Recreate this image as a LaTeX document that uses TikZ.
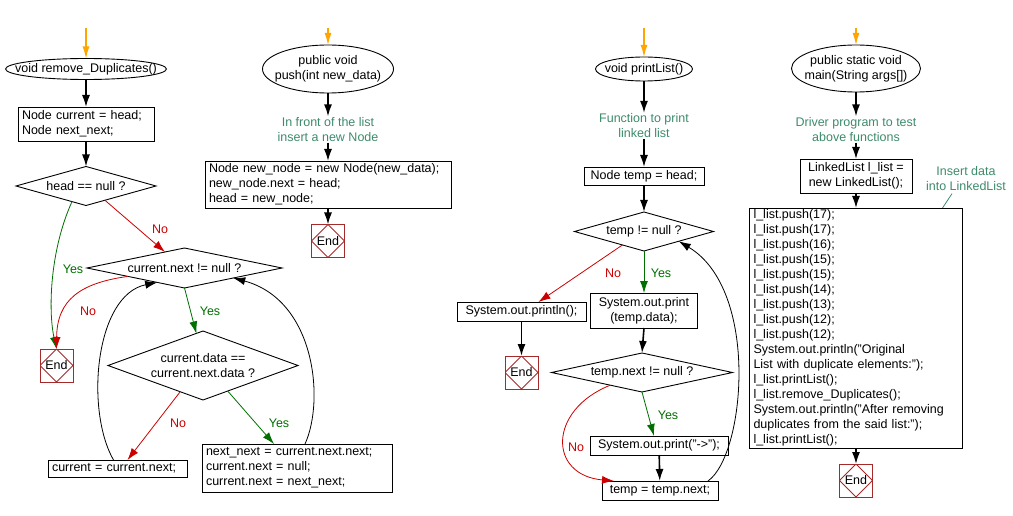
\documentclass[tikz,border=0pt]{standalone}
\usepackage{fontspec}
\setmainfont{Liberation Sans}
\usetikzlibrary{shapes.geometric,arrows.meta,calc}

\definecolor{yesgreen}{RGB}{0,110,0}
\definecolor{nored}{RGB}{204,0,0}
\definecolor{cmtgreen}{RGB}{61,139,107}
\definecolor{endred}{RGB}{165,42,42}
\definecolor{entryorange}{RGB}{255,165,0}

\begin{document}
\begin{tikzpicture}[x=1pt, y=-1pt,
  every node/.style={font=\fontsize{12.5}{15}\selectfont, outer sep=0pt},
  term/.style={draw, line width=0.9pt, ellipse, inner sep=0pt, align=center},
  stepbox/.style={draw, line width=0.9pt, rectangle, inner xsep=4pt, inner ysep=0pt, align=left},
  cond/.style={draw, line width=0.9pt, diamond, inner sep=0pt, align=center},
  endbox/.style={draw=endred, line width=0.9pt, minimum size=33pt, inner sep=0pt,
    path picture={\draw[endred, line width=0.9pt] (path picture bounding box.north) -- (path picture bounding box.east) -- (path picture bounding box.south) -- (path picture bounding box.west) -- cycle;}},
  cmt/.style={text=cmtgreen, align=center, inner sep=1pt},
  flow/.style={-{Latex[length=12pt,width=8pt]}, line width=1.6pt},
  back/.style={-{Latex[length=12pt,width=8pt]}, line width=0.8pt},
  yes/.style={-{Latex[length=12pt,width=8pt]}, yesgreen, line width=0.8pt},
  no/.style={-{Latex[length=12pt,width=8pt]}, nored, line width=0.8pt},
  entry/.style={-{Latex[length=12pt,width=7pt]}, entryorange, line width=1.2pt},
  yeslbl/.style={text=yesgreen},
  nolbl/.style={text=nored}]

\useasboundingbox (0,0) rectangle (1013,516);

\coordinate (r0) at (86,28);
\node[term, minimum width=161pt, minimum height=21pt] (r1) at (86,69) {\makebox[0pt]{void remove\_Duplicates()}};
\node[stepbox, text width=128pt, minimum height=34pt] (r2) at (86,124) {Node current = head;\\Node next\_next;};
\node[cond, minimum width=140pt, minimum height=39pt, aspect=3.6] (r3) at (86,186) {head == null ?};
\node[cond, minimum width=195pt, minimum height=40pt, aspect=4.9] (r4) at (184.5,268) {current.next != null ?};
\node[cond, minimum width=190pt, minimum height=69pt, aspect=2.75] (r5) at (203,365.5) {current.data ==\\current.next.data ?};
\node[endbox] (r6) at (56.5,365.5) {End};
\node[stepbox, text width=131pt, minimum height=17pt] (r7) at (117.5,468.5) {current = current.next;};
\node[stepbox, text width=182pt, minimum height=48pt] (r8) at (297,468) {next\_next = current.next.next;\\current.next = null;\\current.next = next\_next;};

\draw[entry] (r0) -- (r1);
\draw[flow] (r1) -- (r2);
\draw[flow] (r2) -- (r3);
\draw[no] ($(r3.south)!0.27!(r3.east)$) -- ($(r4.north)!0.2!(r4.west)$);
\node[nolbl] (r3no) at (160,229) {No};
\draw[yes] ($(r3.south)!0.2!(r3.west)$) .. controls (50,250) and (48,310) .. (r6.north);
\node[yeslbl] (r3yes) at (73,269) {Yes};
\draw[no] ($(r4.west)!0.42!(r4.south)$) .. controls (80,283) and (57,300) .. (r6.north);
\node[nolbl] (r4no) at (88,311) {No};
\draw[yes] (r4.south) -- ($(r5.north)!0.07!(r5.west)$);
\node[yeslbl] (r4yes) at (210,311) {Yes};
\draw[no] ($(r5.south)!0.24!(r5.west)$) -- ($(r7.north)+(10,0)$);
\node[nolbl] (r5no) at (178,423) {No};
\draw[yes] ($(r5.south)!0.26!(r5.east)$) -- ($(r8.north)+(-23,0)$);
\node[yeslbl] (r5yes) at (279,423) {Yes};
\draw[back] ($(r7.north)+(-4,0)$) .. controls (85,410) and (95,295) .. ($(r4.west)!0.72!(r4.south)$);
\draw[back] ($(r8.north)+(8,0)$) .. controls (325,400) and (315,300) .. ($(r4.south)!0.5!(r4.east)$);

\coordinate (p0) at (328,28);
\node[term, minimum width=131pt, minimum height=48pt] (p1) at (328,69) {\makebox[0pt]{public void}\\\makebox[0pt]{push(int new\_data)}};
\node[cmt] (p2) at (328,129.5) {In front of the list\\insert a new Node};
\node[stepbox, text width=238pt, minimum height=47pt] (p3) at (328,184.5) {Node new\_node = new Node(new\_data);\\new\_node.next = head;\\head = new\_node;};
\node[endbox] (p4) at (328,241) {End};

\draw[entry] (p0) -- (p1);
\draw[flow] (p1) -- (p2);
\draw[flow] (p2) -- (p3);
\draw[flow] (p3) -- (p4);

\coordinate (l0) at (644,28);
\node[term, minimum width=97pt, minimum height=24pt] (l1) at (644,69) {\makebox[0pt]{void printList()}};
\node[cmt] (l2) at (644,126) {Function to print\\linked list};
\node[stepbox, align=center, minimum width=120pt, minimum height=18pt] (l3) at (644,176) {Node temp = head;};
\node[cond, minimum width=139pt, minimum height=39pt, aspect=3.6] (l4) at (644,231.5) {temp != null ?};
\node[stepbox, align=center, minimum width=129pt, minimum height=19pt] (l5) at (521.5,311.5) {System.out.println();};
\node[stepbox, align=center, minimum width=107pt, minimum height=35pt] (l6) at (644,310.5) {System.out.print\\(temp.data);};
\node[endbox] (l7) at (521.5,372.5) {End};
\node[cond, minimum width=181pt, minimum height=39pt, aspect=4.6] (l8) at (642,372.5) {temp.next != null ?};
\node[stepbox, align=center, minimum width=138pt, minimum height=19pt] (l9) at (659,445.5) {System.out.print("->");};
\node[stepbox, align=center, minimum width=116pt, minimum height=19pt] (l10) at (660,490.5) {temp = temp.next;};

\draw[entry] (l0) -- (l1);
\draw[flow] (l1) -- (l2);
\draw[flow] (l2) -- (l3);
\draw[flow] (l3) -- (l4);
\draw[no] ($(l4.south)!0.31!(l4.west)$) -- ($(l5.north)+(17,0)$);
\node[nolbl] (l4no) at (613,273) {No};
\draw[yes] (l4.south) -- (l6.north);
\node[yeslbl] (l4yes) at (661,273) {Yes};
\draw[flow] (l5) -- (l7);
\draw[flow] (l6.south) -- (l8.north);
\draw[yes] (l8.south) -- ($(l9.north)+(-5,0)$);
\node[yeslbl] (l8yes) at (668,415) {Yes};
\draw[no] ($(l8.west)!0.65!(l8.south)$) .. controls (548,410) and (548,475) .. ($(l10.north west)+(12,0)$);
\node[nolbl] (l8no) at (576,447) {No};
\draw[flow] (l9) -- (l10);
\draw[back] ($(l10.north east)+(-10,0)$) .. controls (745,455) and (760,290) .. ($(l4.south)!0.5!(l4.east)$);

\coordinate (m0) at (856,28);
\node[term, minimum width=129pt, minimum height=47pt] (m1) at (856,68.5) {\makebox[0pt]{public static void}\\\makebox[0pt]{main(String args[])}};
\node[cmt] (m2) at (856,129.5) {Driver program to test\\above functions};
\node[stepbox, align=center, minimum width=112pt, minimum height=34pt] (m3) at (856,176) {LinkedList l\_list =\\new LinkedList();};
\node[stepbox, text width=205pt, minimum height=240pt] (m4) at (856,328) {l\_list.push(17);\\l\_list.push(17);\\l\_list.push(16);\\l\_list.push(15);\\l\_list.push(15);\\l\_list.push(14);\\l\_list.push(13);\\l\_list.push(12);\\l\_list.push(12);\\System.out.println("Original\\List with duplicate elements:");\\l\_list.printList();\\l\_list.remove\_Duplicates();\\System.out.println("After removing\\duplicates from the said list:");\\l\_list.printList();};
\node[endbox] (m5) at (856,480.5) {End};
\node[cmt] (m6) at (966,178.5) {Insert data\\into LinkedList};

\draw[entry] (m0) -- (m1);
\draw[flow] (m1) -- (m2);
\draw[flow] (m2) -- (m3);
\draw[flow] (m3) -- (m4);
\draw[flow] (m4) -- (m5);
\draw[cmtgreen, line width=0.8pt] ($(m6.south)+(-14,2)$) -- ($(m4.north east)+(-20,0)$);
\end{tikzpicture}
\end{document}
